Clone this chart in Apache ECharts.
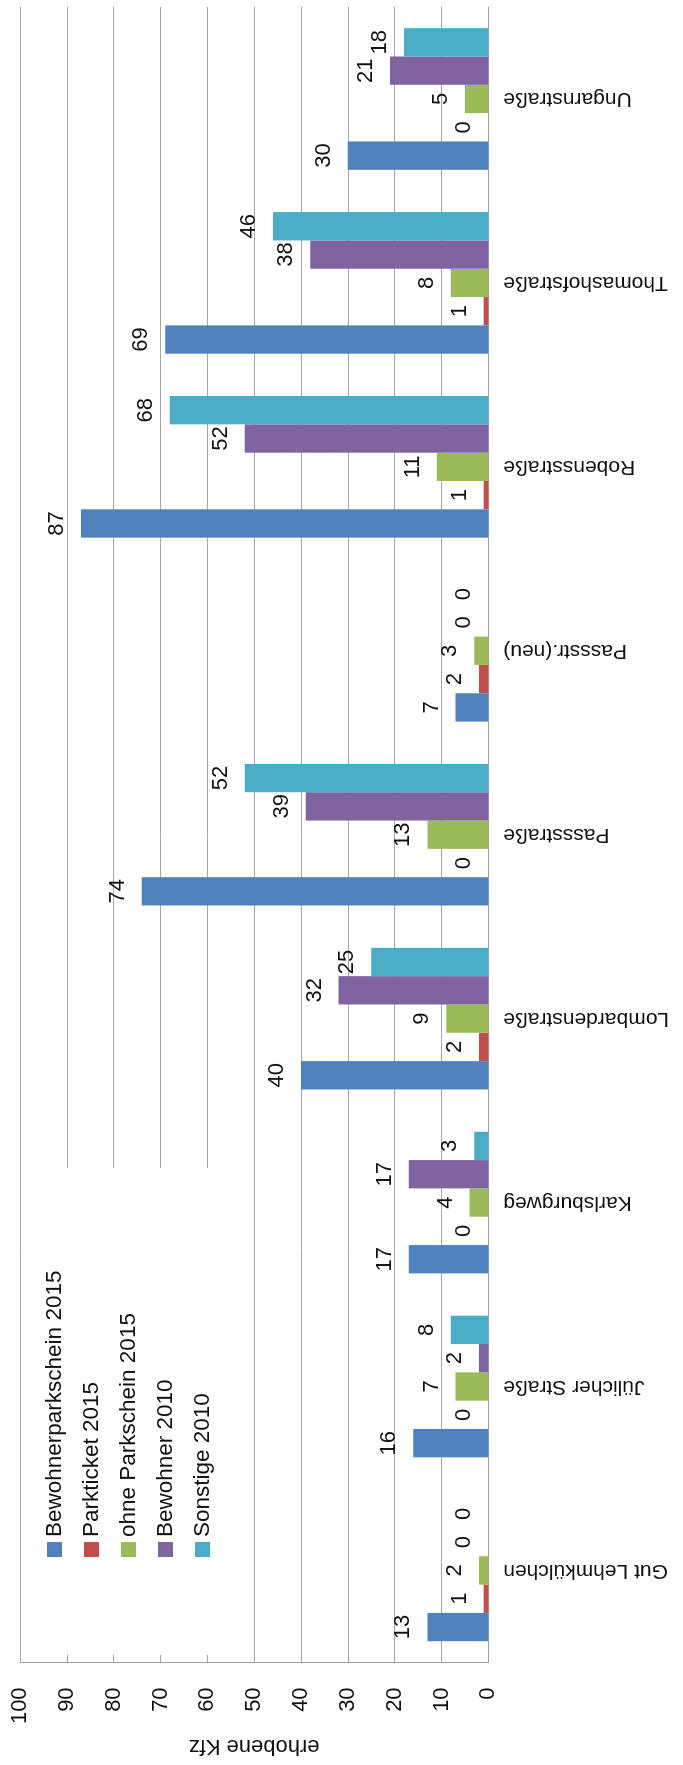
<!DOCTYPE html>
<html>
<head>
<meta charset="utf-8">
<script src="https://cdn.jsdelivr.net/npm/echarts@6/dist/echarts.min.js"></script>
<style>
  html, body { margin: 0; padding: 0; background: #ffffff; overflow: hidden; }
  body { width: 683px; height: 1765px; position: relative; }
  /* The column chart is laid out landscape and turned a quarter turn counter-clockwise */
  #chart {
    position: absolute; left: 0; top: 0;
    width: 1765px; height: 683px;
    transform-origin: 0 0;
    transform: translateY(1765px) rotate(-90deg);
  }
</style>
</head>
<body>
<div id="chart"></div>
<script>
const categories = [
  'Gut Lehmkülchen', 'Jülicher Straße', 'Karlsburgweg', 'Lombardenstraße',
  'Passstraße', 'Passstr.(neu)', 'Robensstraße', 'Thomashofstraße', 'Ungarnstraße'
];
const bewohnerparkschein2015 = [13, 16, 17, 40, 74, 7, 87, 69, 30];
const parkticket2015         = [1, 0, 0, 2, 0, 2, 1, 1, 0];
const ohneParkschein2015     = [2, 7, 4, 9, 13, 3, 11, 8, 5];
const bewohner2010           = [0, 2, 17, 32, 39, 0, 52, 38, 21];
const sonstige2010           = [0, 8, 3, 25, 52, 0, 68, 46, 18];
const valueTicks = { min: 0, max: 100, interval: 10 };

const FONT = 'Liberation Sans';
const TXT = '#111111';

const seriesDefs = [
  { name: 'Bewohnerparkschein 2015', data: bewohnerparkschein2015, color: '#4F81BD' },
  { name: 'Parkticket 2015',         data: parkticket2015,         color: '#C0504D' },
  { name: 'ohne Parkschein 2015',    data: ohneParkschein2015,     color: '#9BBB59' },
  { name: 'Bewohner 2010',           data: bewohner2010,           color: '#8064A2' },
  { name: 'Sonstige 2010',           data: sonstige2010,           color: '#4BACC6' }
];

const chart = echarts.init(document.getElementById('chart'), null, { renderer: 'canvas' });

chart.setOption({
  animation: false,
  backgroundColor: '#ffffff',
  textStyle: { fontFamily: FONT },
  grid: { left: 99, right: 7, top: 20, bottom: 194.7, containLabel: false },
  xAxis: {
    type: 'category',
    data: categories,
    axisLine: { show: true, lineStyle: { color: '#a0a0a0', width: 1 } },
    axisTick: { show: false },
    axisLabel: { rotate: 90, margin: 15, fontSize: 21, color: TXT, fontFamily: FONT },
    splitLine: { show: false }
  },
  yAxis: {
    type: 'value',
    min: valueTicks.min,
    max: valueTicks.max,
    interval: valueTicks.interval,
    name: 'erhobene Kfz',
    nameLocation: 'middle',
    nameRotate: 90,
    nameGap: 72,
    nameTextStyle: { fontSize: 22, color: TXT, fontFamily: FONT },
    axisLine: { show: true, lineStyle: { color: '#a0a0a0', width: 1 } },
    axisTick: { show: false },
    axisLabel: { margin: 25, fontSize: 22, color: TXT, fontFamily: FONT },
    splitLine: { show: true, lineStyle: { color: '#a6a6a6', width: 1 } }
  },
  legend: {
    orient: 'vertical',
    left: 208,
    top: 43,
    padding: 0,
    itemWidth: 15,
    itemHeight: 15,
    itemGap: 14,
    icon: 'rect',
    textStyle: { fontSize: 22.5, color: TXT, fontFamily: FONT },
    data: seriesDefs.map(s => s.name)
  },
  graphic: [{
    type: 'rect',
    z: 1,
    silent: true,
    shape: { x: 110, y: 21, width: 487, height: 232 },
    style: { fill: '#ffffff' }
  }],
  series: seriesDefs.map(s => ({
    type: 'bar',
    name: s.name,
    data: s.data,
    barGap: '0%',
    barCategoryGap: '23%',
    itemStyle: { color: s.color },
    label: {
      show: true,
      position: 'top',
      distance: 13,
      fontSize: 22,
      color: TXT,
      fontFamily: FONT
    }
  }))
});
</script>
</body>
</html>
